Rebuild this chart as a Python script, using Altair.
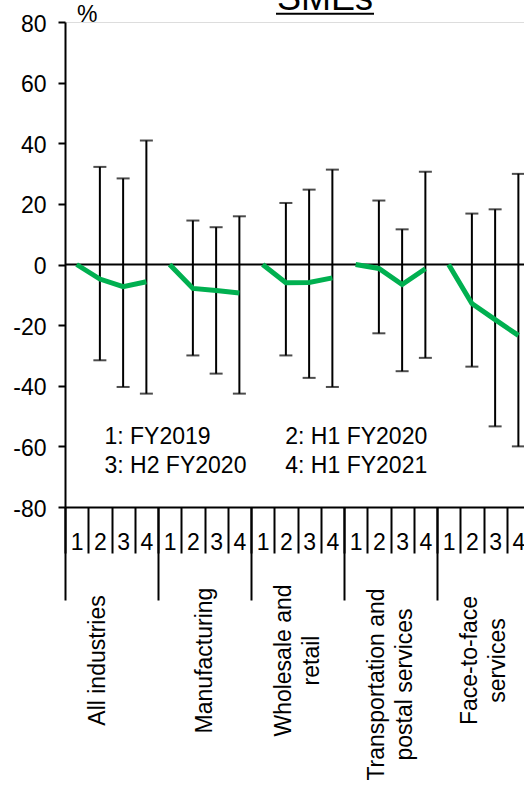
import altair as alt
import pandas as pd

# ---------------- data ----------------
groups = ["All industries", "Manufacturing", "Wholesale and retail",
          "Transportation and postal services", "Face-to-face services"]
# axis label text ("|" = line break)
group_axis_labels = ["All industries|", "Manufacturing", "Wholesale and|retail",
                     "Transportation and|postal services", "Face-to-face|services"]
periods = ["1", "2", "3", "4"]
period_names = ["1: FY2019", "2: H1 FY2020", "3: H2 FY2020", "4: H1 FY2021"]

median_all = [0, -4.8, -7.3, -5.7]
median_manu = [0, -7.9, -8.6, -9.4]
median_whole = [0, -6.0, -5.9, -4.4]
median_trans = [0, -1.3, -6.6, -1.4]
median_face = [0, -12.9, -18.2, -23.4]

high_all = [None, 32.2, 28.4, 40.9]
high_manu = [None, 14.5, 12.3, 15.9]
high_whole = [None, 20.3, 24.7, 31.3]
high_trans = [None, 21.1, 11.6, 30.6]
high_face = [None, 16.8, 18.2, 29.9]

low_all = [None, -31.6, -40.4, -42.6]
low_manu = [None, -30.0, -36.0, -42.6]
low_whole = [None, -30.0, -37.4, -40.4]
low_trans = [None, -22.7, -35.2, -30.8]
low_face = [None, -33.7, -53.4, -60.0]

medians = [median_all, median_manu, median_whole, median_trans, median_face]
highs = [high_all, high_manu, high_whole, high_trans, high_face]
lows = [low_all, low_manu, low_whole, low_trans, low_face]

rows = []
keys = []
for gi, g in enumerate(groups):
    for pi, p in enumerate(periods):
        k = f"g{gi}_{p}"
        keys.append(k)
        rows.append({"key": k, "group": g, "period": p,
                     "median": medians[gi][pi], "low": lows[gi][pi], "high": highs[gi][pi]})
df = pd.DataFrame(rows)
df_w = df.dropna(subset=["low", "high"])

FONT = "Liberation Sans"
FS = 23
GREEN = "#00B050"

# ---------------- scales / axes ----------------
xscale = alt.Scale(domain=keys, range=[0, 465], paddingInner=0, paddingOuter=0)
yscale = alt.Scale(domain=[-80, 80], nice=False, zero=False)

slot_axis = alt.Axis(orient="bottom", title=None, domain=True, domainColor="black",
                     domainWidth=2, ticks=True, tickBand="extent", tickSize=46,
                     tickWidth=2, tickColor="black", labelAngle=0, labelAlign="center",
                     labelBaseline="top", labelPadding=-22, labelFontSize=FS,
                     labelFont=FONT, labelColor="black", labelOverlap=False,
                     labelExpr="isValid(datum.value) ? split(datum.value, '_')[1] : ''",
                     grid=False)
y_axis = alt.Axis(values=list(range(-80, 81, 20)), title=None, domainColor="black",
                  domainWidth=2, tickSize=7, tickWidth=2, tickColor="black",
                  labelFontSize=FS, labelFont=FONT, labelColor="black",
                  labelPadding=12, labelOffset=2, grid=False,
                  labelExpr="toString(datum.value)")

X = alt.X("key:N", scale=xscale, axis=slot_axis)

base = alt.Chart(df_w)

zero = alt.Chart(pd.DataFrame({"z": [0]})).mark_rule(color="black", strokeWidth=2).encode(
    y=alt.Y("z:Q", scale=yscale, axis=y_axis))

whisk = base.mark_rule(color="black", strokeWidth=2).encode(
    x=X, y=alt.Y("low:Q", scale=yscale, axis=y_axis), y2="high:Q")
cap_lo = base.mark_tick(color="black", thickness=2, size=13).encode(
    x=X, y=alt.Y("low:Q", scale=yscale, axis=y_axis))
cap_hi = base.mark_tick(color="black", thickness=2, size=13).encode(
    x=X, y=alt.Y("high:Q", scale=yscale, axis=y_axis))

line = alt.Chart(df).mark_line(color=GREEN, strokeWidth=5).encode(
    x=X, y=alt.Y("median:Q", scale=yscale, axis=y_axis), detail="group:N")

one = pd.DataFrame({"a": [0]})
legend_left = alt.Chart(one).mark_text(
    text=[period_names[0], period_names[2]], align="left", baseline="alphabetic",
    font=FONT, fontSize=FS, lineHeight=29, color="black").encode(
    x=alt.value(39.5), y=alt.value(422))
legend_right = alt.Chart(one).mark_text(
    text=[period_names[1], period_names[3]], align="left", baseline="alphabetic",
    font=FONT, fontSize=FS, lineHeight=29, color="black").encode(
    x=alt.value(220.3), y=alt.value(422))

pct = alt.Chart(one).mark_text(text="%", align="left", baseline="alphabetic",
                               font=FONT, fontSize=FS, color="black").encode(
    x=alt.value(12), y=alt.value(0))

title = alt.Chart(one).mark_text(text="SMEs", align="center", baseline="alphabetic",
                                 font=FONT, fontSize=36, color="black").encode(
    x=alt.value(260), y=alt.value(-12))
underline = alt.Chart(one).mark_rule(color="black", strokeWidth=2).encode(
    x=alt.value(211), x2=alt.value(309), y=alt.value(-8.3))

inner = alt.layer(zero, whisk, cap_lo, cap_hi, line, legend_left, legend_right,
                  pct, title, underline)

group_axis = alt.Axis(orient="bottom", title=None, domain=False, ticks=True,
                      tickBand="extent", tickSize=93, tickWidth=2, tickColor="black",
                      labelAngle=270, labelAlign="center", labelBaseline="middle",
                      labelPadding={"condition": {"test": "isValid(datum.value) && length(datum.value) > 30",
                                                  "value": 84},
                                    "value": 60},
                      labelOffset={"condition": {"test": "isValid(datum.value) && indexof(datum.value, '|') >= 0",
                                                 "value": -14},
                                   "value": 0},
                      labelFontSize=FS, labelFont=FONT, labelLimit=0,
                      labelColor="black", labelLineHeight=28, labelOverlap=False,
                      labelExpr="isValid(datum.value) ? split(datum.value, '|') : ''",
                      grid=False)

grp = alt.Chart(pd.DataFrame({"g": group_axis_labels})).mark_point(opacity=0).encode(
    x=alt.X("g:N", scale=alt.Scale(domain=group_axis_labels, range=[0, 465],
                                   paddingInner=0, paddingOuter=0), axis=group_axis),
    y=alt.value(0))

chart = alt.layer(inner, grp).resolve_scale(x="independent").properties(
    width=459, height=485,
    padding={"left": 65, "top": 22, "right": 0, "bottom": 280},
    autosize="none",
).configure_view(stroke=None).configure(background="white")

chart.save("out.html", embed_options={"renderer": "svg", "actions": False})
